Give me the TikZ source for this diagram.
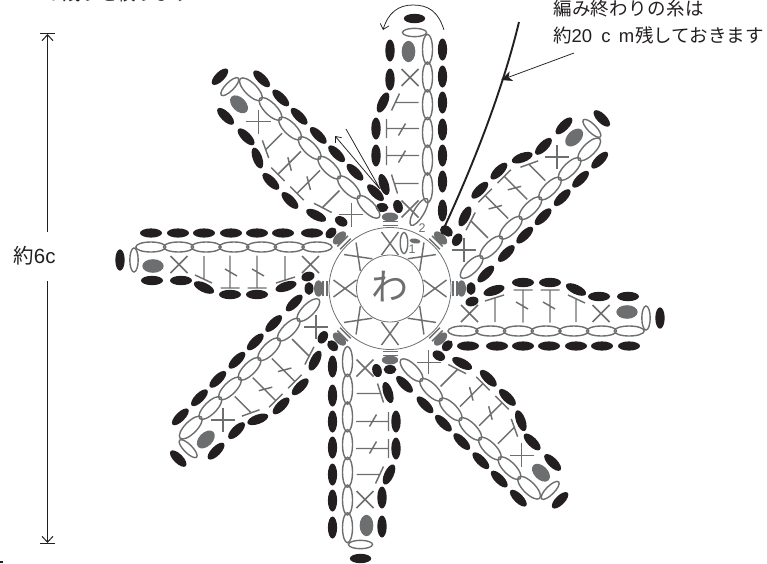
\documentclass[tikz,border=0pt]{standalone}
\usepackage{fontspec}
\setmainfont{Liberation Sans}
\newfontfamily\jp{Noto Sans CJK JP}
\usetikzlibrary{arrows.meta}
\definecolor{kb}{HTML}{231F20}
\definecolor{kg}{HTML}{6D6E70}
\tikzset{
  ovalk/.style={fill=kb,draw=none},
  ovalg/.style={fill=kg,draw=none},
  chainoval/.style={draw=kg,line width=1.4pt,fill=none},
  stitch/.style={draw=kg,line width=1.45pt},
  thin line/.style={draw=kb,line width=0.75pt},
  label/.style={text=kb,inner sep=0pt,font=\fontsize{18.5}{20}\selectfont},
  ringnum/.style={text=kg,inner sep=0pt,font=\fontsize{12.5}{13}\selectfont},
}
% black oval: u v rot rx ry
\newcommand\kbl[5]{\fill[ovalk,shift={(#1,#2)},rotate=#3] (0,0) ellipse [x radius=#4,y radius=#5];}
\newcommand\kgr[5]{\fill[ovalg,shift={(#1,#2)},rotate=#3] (0,0) ellipse [x radius=#4,y radius=#5];}
\newcommand\kch[5]{\draw[chainoval,shift={(#1,#2)},rotate=#3] (0,0) ellipse [x radius=#4,y radius=#5];}
\newcommand\kx[3]{\draw[stitch] (#1-#3,#2-8.5) -- (#1+#3,#2+8.5) (#1-#3,#2+8.5) -- (#1+#3,#2-8.5);}
% petal: angle, shift of chain+stitches, shift of inner row, shift of outer row, tilted first oval, chain half-width
\newcommand\petal[6]{%
\begin{scope}[shift={(390,288.5)},rotate=#1]
  % ring marks
  \draw[stitch] (63,-7.5) -- (63,7.5) (67,-7.5) -- (67,7.5);
  \kgr{71.5}{0}{0}{4.5}{8.2}
  \kx{45}{0}{11.5}
  % chain
  \ifnum#5=1
    \foreach \i in {1,...,6} {\kch{73+27.7*\i}{42.5+#2}{0}{15}{#6}}
    \kch{76.5}{29}{-31}{15.5}{5}
  \else
    \foreach \i in {0,...,6} {\kch{73+27.7*\i}{42.5+#2}{0}{15}{#6}}
  \fi
  % end ovals
  \kch{256}{29.5+#2}{0}{4.2}{12}
  \kbl{270}{29.5+#2}{0}{4.7}{10.7}
  \kgr{237}{23.5+#2}{0}{10.7}{6.8}
  % outer row
  \foreach \u in {78,107,133,159,186,212,239} {\kbl{\u}{57.5+#4}{0}{11}{4.6}}
  % inner row
  \kbl{81}{0+#3}{0}{4.5}{6.4}
  \kbl{82}{13+#2}{15}{6.7}{4.7}
  \kbl{104}{2+#3}{18}{11}{4.7}
  \kbl{133}{-6+#3}{0}{11}{4.7}
  \kbl{160}{-6+#3}{0}{11}{4.7}
  \kbl{186}{1+#3}{-25}{11}{4.7}
  \kbl{209}{8+#3}{0}{11}{4.7}
  \kbl{238}{8+#3}{0}{11}{4.7}
  % stitches
  \begin{scope}[shift={(0,#2)}]
  \kx{79.5}{25}{8.5}
  \kx{211}{25}{8.5}
  \draw[stitch] (105,33.5) -- (105,9.5) (95,12.5) -- (114,6.5);
  \draw[stitch] (186,33.5) -- (186,10.5) (178,6.5) -- (195,14.5);
  \foreach \u in {133,160} {
    \draw[stitch] (\u,34) -- (\u,1.5) (\u-9.5,1.5) -- (\u+9.5,1.5) (\u-7,13.5) -- (\u+5,20.5);
  }
  \end{scope}
\end{scope}}
\begin{document}
\begin{tikzpicture}[x=1pt,y=-1pt]
\useasboundingbox (0,0) rectangle (767,563);
\begin{scope}
\clip (0,0) rectangle (767,563);
\node[label,anchor=base east] (cuttext) at (192,0.6) {\jp の残りを絞ります};
\end{scope}
% petals
\petal{0}{0}{0}{0}{0}{5}
\petal{45}{0}{0}{0}{0}{6}
\petal{90}{-5}{-8}{-5}{1}{5}
\petal{135}{0}{-2.5}{0}{0}{6}
\petal{180}{-1}{0}{-2}{0}{5}
\petal{225}{0}{0}{0}{0}{6}
\petal{270}{0}{0}{0}{0}{5}
\petal{315}{0}{0}{0}{0}{6}
% ring
\node[circle,draw=kg,line width=0.8pt,minimum size=122pt,inner sep=0pt] (outerring) at (390,288.5) {};
\node[circle,draw=kg,line width=0.8pt,minimum size=67pt,inner sep=0pt] (innerring) at (390,288.5) {};
\node[inner sep=0pt,text=kg,font=\fontsize{37}{37}\selectfont] (wa) at (389.5,287) {\jp わ};
\kch{404}{243}{90}{10.5}{3.8}
\kgr{415}{241}{-8}{5.5}{2.5}
\node[ringnum] (numone) at (412,249) {1};
\node[ringnum] (numtwo) at (422,228) {2};
\node[ringnum,text=kb] (numthree) at (442,210) {3};
% yarn tail
\coordinate (yarntop) at (519,22);
\coordinate (yarnend) at (444,228);
\fill[kb] (445,230) circle (5);
\draw[draw=kb,line width=1.9pt] (yarntop) .. controls (505,80) and (480,150) .. (yarnend);
\node[label,anchor=west] (noteone) at (553,8) {\jp\addfontfeature{LetterSpace=2}編み終わりの糸は};
\node[label,anchor=west] (notetwo) at (553,35) {{\jp 約}20\hspace{4pt} c\hspace{3pt} m\hspace{1pt}{\jp 残しておきます}};
\coordinate (noteend) at (574,53);
\coordinate (notetip) at (501,80);
\draw[thin line,-{Stealth[length=11pt,width=10pt,inset=3pt]}] (noteend) -- (notetip);
% working direction arrows
\coordinate (arca) at (444,30);
\coordinate (arcb) at (383,30);
\draw[thin line,-{Straight Barb[length=5pt,width=9pt]}] (arca) .. controls (438,11) and (428,5) .. (413,5) .. controls (398,5) and (388,13) .. (arcb);
\coordinate (vstart) at (346,129);
\coordinate (vtip) at (380,189);
\coordinate (vend) at (335,136);
\draw[thin line,-{Straight Barb[length=5pt,width=8pt]}] (vstart) -- (vtip) -- (vend);
% dimension
\coordinate (dimtop) at (47.5,33);
\coordinate (dimbot) at (47.5,544);
\coordinate (dimgapa) at (47.5,232);
\coordinate (dimgapb) at (47.5,281);
\draw[draw=kb,line width=1pt,{Bar[width=15pt,length=0pt].Straight Barb[length=6pt,width=11pt]}-] (dimtop) -- (dimgapa);
\draw[draw=kb,line width=1pt,-{Straight Barb[length=6pt,width=11pt].Bar[width=15pt,length=0pt]}] (dimgapb) -- (dimbot);
\node[label,font=\fontsize{20.5}{22}\selectfont] (dimlabel) at (34.5,256) {{\jp 約}6c};
\fill[kb] (0,560.5) rectangle (2.5,562.5);
\end{tikzpicture}
\end{document}
